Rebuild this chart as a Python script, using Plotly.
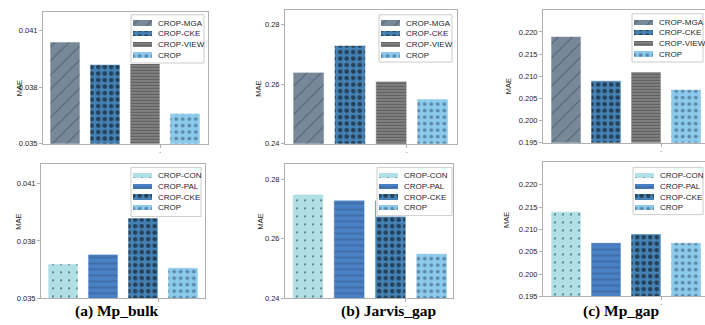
import plotly.graph_objects as go

# ---------------- data ----------------
datasets = ["Mp_bulk", "Jarvis_gap", "Mp_gap"]
panel_letters = ["a", "b", "c"]
top_series = ["CROP-MGA", "CROP-CKE", "CROP-VIEW", "CROP"]
bottom_series = ["CROP-CON", "CROP-PAL", "CROP-CKE", "CROP"]

mp_bulk_top = [0.0404, 0.0392, 0.0404, 0.0366]
jarvis_gap_top = [0.264, 0.273, 0.261, 0.255]
mp_gap_top = [0.219, 0.209, 0.211, 0.207]

mp_bulk_bottom = [0.0368, 0.0373, 0.0392, 0.0366]
jarvis_gap_bottom = [0.275, 0.273, 0.273, 0.255]
mp_gap_bottom = [0.214, 0.207, 0.209, 0.207]

y_ranges = {"Mp_bulk": [0.035, 0.042], "Jarvis_gap": [0.24, 0.285], "Mp_gap": [0.195, 0.225]}
y_ticks = {"Mp_bulk": [0.035, 0.038, 0.041], "Jarvis_gap": [0.24, 0.26, 0.28],
           "Mp_gap": [0.195, 0.200, 0.205, 0.210, 0.215, 0.220]}
y_formats = {"Mp_bulk": ".3f", "Jarvis_gap": ".2f", "Mp_gap": ".3f"}
x_tick_labels = ["-"]
y_title = "MAE"

# ---------------- styles ----------------
styles = {
    "CROP-MGA": dict(color="#778899", shape="/", fg="#2f3a45", size=10, solidity=0.1),
    "CROP-CKE": dict(color="#4682b4", shape=".", fg="#000000", size=6.5, solidity=0.4),
    "CROP-VIEW": dict(color="#808080", shape="-", fg="#3a3a3a", size=3, solidity=0.35),
    "CROP": dict(color="#8ccbec", shape=".", fg="#2b4766", size=6.5, solidity=0.28),
    "CROP-CON": dict(color="#b0e0e6", shape=".", fg="#000000", size=8, solidity=0.06),
    "CROP-PAL": dict(color="#4a80c4", shape="-", fg="#1c3552", size=6, solidity=0.15),
}

W, H = 705, 325
FONT = "Liberation Sans"
TXT = "#262626"
SPINE = "#b0b0b0"


def fx(p):
    return p / W


def fy(p):
    return 1 - p / H


# panel boxes in px (left, top, right, bottom) and x ranges
panels = [
    dict(box=(43, 12, 208, 146), xr=[-0.55, 3.575], series=top_series, vals=mp_bulk_top, ds=0,
         leg=(131, 15, 204, 64), mae=(13, 80), right=True),
    dict(box=(285, 10, 457, 146), xr=[-0.57, 3.59], series=top_series, vals=jarvis_gap_top, ds=1,
         leg=(379, 15, 452, 63), mae=(259, 80), right=True),
    dict(box=(543, 10, 705, 145), xr=[-0.575, 3.475], series=top_series, vals=mp_gap_top, ds=2,
         leg=(632, 14, 703, 63), mae=(515, 78), right=False),
    dict(box=(41, 167, 205, 303), xr=[-0.55, 3.55], series=bottom_series, vals=mp_bulk_bottom, ds=0,
         leg=(131, 170, 201, 220), mae=(12, 236), right=True),
    dict(box=(285, 167, 453, 303), xr=[-0.56, 3.52], series=bottom_series, vals=jarvis_gap_bottom, ds=1,
         leg=(377, 170, 452, 219), mae=(260, 235), right=True),
    dict(box=(543, 165, 705, 301), xr=[-0.575, 3.475], series=bottom_series, vals=mp_gap_bottom, ds=2,
         leg=(633, 170, 703, 218), mae=(513, 234), right=False),
]
title_pos = [(117, 316), (388, 316), (621, 316)]

fig = go.Figure()
annotations = []
shapes = []


def pattern_of(name):
    s = styles[name]
    return dict(shape=s["shape"], fgcolor=s["fg"], size=s["size"], solidity=s["solidity"])


n = len(panels)
for i, p in enumerate(panels):
    k = i + 1
    xa = "x" if k == 1 else f"x{k}"
    ya = "y" if k == 1 else f"y{k}"
    ds = datasets[p["ds"]]
    positions = list(range(len(p["series"])))
    for pos, name, v in zip(positions, p["series"], p["vals"]):
        s = styles[name]
        fig.add_trace(go.Bar(
            x=[pos], y=[v], width=0.75, name=name, showlegend=False,
            marker=dict(color=s["color"], line=dict(color="white", width=0.6),
                        pattern=pattern_of(name)),
            xaxis=xa, yaxis=ya))
    l, t, r, b = p["box"]
    fig.update_layout(**{
        ("xaxis" if k == 1 else f"xaxis{k}"): dict(
            domain=[fx(l), fx(r)], anchor=ya, range=p["xr"], showgrid=False, zeroline=False,
            showline=True, linecolor=SPINE, linewidth=1, mirror=True,
            tickvals=[2.375], ticktext=x_tick_labels, ticks="outside", ticklen=3,
            tickcolor=SPINE, tickfont=dict(family=FONT, size=5, color=TXT)),
        ("yaxis" if k == 1 else f"yaxis{k}"): dict(
            domain=[fy(b), fy(t)], anchor=xa, range=y_ranges[ds], showgrid=False, zeroline=False,
            showline=True, linecolor=SPINE, linewidth=1, mirror=p["right"],
            tickvals=y_ticks[ds], tickformat=y_formats[ds], ticks="outside", ticklen=3,
            tickcolor=SPINE, tickfont=dict(family=FONT, size=7.5, color=TXT)),
    })
    annotations.append(dict(text=y_title, x=fx(p["mae"][0]), y=fy(p["mae"][1]), xref="paper",
                             yref="paper", showarrow=False, textangle=-90,
                             font=dict(family=FONT, size=7.5, color=TXT)))

    # ---- legend drawn as a small extra subplot ----
    kl = k + n
    lx = f"x{kl}"
    ly = f"y{kl}"
    L, T, R, B = p["leg"]
    bw = R - L
    spacing = 10.8
    first = 8.5
    u_top = -(first + 1) / spacing
    u_bot = (B - T - first + 1) / spacing
    fig.update_layout(**{
        f"xaxis{kl}": dict(domain=[fx(L - 1), fx(R + 1)], anchor=ly, range=[-1, bw + 1],
                           visible=False, fixedrange=True),
        f"yaxis{kl}": dict(domain=[fy(B + 1), fy(T - 1)], anchor=lx, range=[u_bot, u_top],
                           visible=False, type="category", categoryorder="array",
                           categoryarray=p["series"], fixedrange=True),
    })
    shapes.append(dict(type="rect", xref=lx, yref=ly, x0=0, x1=bw,
                       y0=-first / spacing, y1=(B - T - first) / spacing,
                       fillcolor="rgba(255,255,255,0.65)", line=dict(color="#cccccc", width=1),
                       layer="below"))
    for name in p["series"]:
        s = styles[name]
        fig.add_trace(go.Bar(
            y=[name], x=[19], base=[2], orientation="h", width=0.5, showlegend=False,
            marker=dict(color=s["color"], line=dict(width=0), pattern=pattern_of(name)),
            xaxis=lx, yaxis=ly, hoverinfo="skip"))
        annotations.append(dict(text=name, x=25, y=name, xref=lx, yref=ly, xanchor="left",
                                yanchor="middle", showarrow=False,
                                font=dict(family=FONT, size=8, color=TXT)))

for j, ds in enumerate(datasets):
    annotations.append(dict(text=f"<b>({panel_letters[j]}) {ds}</b>", x=fx(title_pos[j][0]),
                            y=fy(title_pos[j][1]), xref="paper", yref="paper", showarrow=False,
                            xanchor="center", yanchor="middle",
                            font=dict(family="Liberation Serif", size=15.5, color="#000000")))

fig.update_layout(
    width=W, height=H, margin=dict(l=0, r=0, t=0, b=0),
    paper_bgcolor="white", plot_bgcolor="white", showlegend=False, hovermode=False,
    bargap=0, annotations=annotations, shapes=shapes,
    font=dict(family=FONT, color=TXT),
)

fig.write_html(
    "out.html",
    config={"displayModeBar": False, "staticPlot": True},
    post_script="document.body.style.margin='0';document.body.style.overflow='hidden';",
)
